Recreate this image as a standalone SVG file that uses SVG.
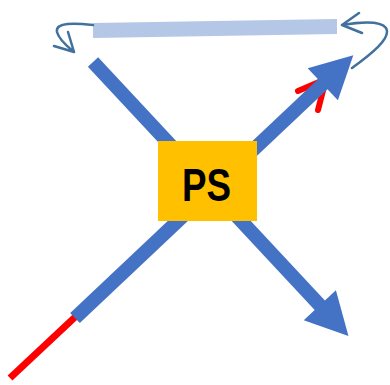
<svg xmlns="http://www.w3.org/2000/svg" width="390" height="385" viewBox="0 0 390 385">
  <style>
    .curl { fill: none; stroke: #41719C; stroke-width: 2.5; stroke-linecap: round; stroke-linejoin: round; }
    .shaft { fill: none; stroke: #4472C4; stroke-width: 14; }
    .red { fill: none; stroke: #FF0000; stroke-width: 7; }
    .label { font-family: "Liberation Sans", Arial, sans-serif; font-weight: bold; font-size: 46px; fill: #000000; }
  </style>
  <defs>
    <marker id="bigHead" markerUnits="userSpaceOnUse" markerWidth="50" markerHeight="50" viewBox="0 -25 45 50" refX="1" refY="0" orient="auto" overflow="visible">
      <path d="M0,-22 L42,0 L0,22 Z" fill="#4472C4"/>
    </marker>
  </defs>
  <rect width="390" height="385" fill="#FFFFFF"/>
  <g id="connectors">
    <polygon id="top-bar" points="93,23 337,19 337,34 93,38" fill="#B4C7E7"/>
    <path class="curl" d="M93,25 C75,23 55,22 57,32 C59,40 68,47 74,52 M68,32 L74,52 L54,46"/>
    <path class="curl" d="M352,68 C370,55 392,38 386,28 C380,20 360,22 342,25 M359,13 L342,25 L362,33"/>
    <path class="red" d="M10,378 L200,200"/>
    <path d="M298,91 L326,79 L318,110" fill="none" stroke="#FF0000" stroke-width="6" stroke-linecap="round" stroke-linejoin="round"/>
    <path class="shaft" d="M93,62 L320.5,306" marker-end="url(#bigHead)"/>
    <path class="shaft" d="M75,318 L323.5,83.5" marker-end="url(#bigHead)"/>
  </g>
  <g id="PS">
    <rect x="158" y="141" width="99" height="80" fill="#FFC000"/>
    <text class="label" x="206.5" y="201" text-anchor="middle" textLength="49" lengthAdjust="spacingAndGlyphs">PS</text>
  </g>
</svg>
